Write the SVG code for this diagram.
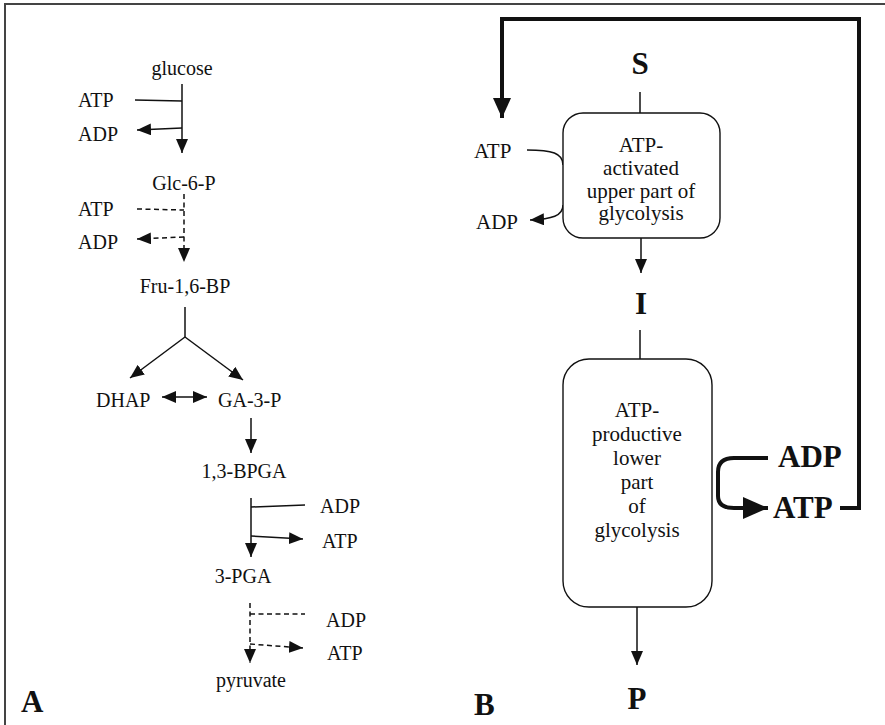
<svg xmlns="http://www.w3.org/2000/svg" width="885" height="725" viewBox="0 0 885 725">
<style>
text{font-family:"Liberation Serif","Times New Roman",serif;fill:#111}
.t{font-size:20px}
.t2{font-size:21px}
.c{text-anchor:middle}
.b{font-weight:bold;font-size:31px}
.ln{fill:none;stroke:#111;stroke-width:1.5}
.d{stroke-dasharray:5,3.5}
.thick{fill:none;stroke:#111;stroke-width:4}
.box{fill:#fff;stroke:#111;stroke-width:1.4}
</style>
<defs>
<marker id="ah" viewBox="0 0 14 12" refX="14" refY="6" markerWidth="14" markerHeight="12" markerUnits="userSpaceOnUse" orient="auto-start-reverse"><path d="M0,0 L14,6 L0,12z" fill="#111" stroke="none"/></marker>
<marker id="ahb" viewBox="0 0 20 18" refX="20" refY="9" markerWidth="20" markerHeight="18" markerUnits="userSpaceOnUse" orient="auto"><path d="M0,0 L20,9 L0,18z" fill="#111" stroke="none"/></marker>
<marker id="ahb2" viewBox="0 0 25 22" refX="25" refY="11" markerWidth="25" markerHeight="22" markerUnits="userSpaceOnUse" orient="auto"><path d="M0,0 L25,11 L0,22z" fill="#111" stroke="none"/></marker>
</defs>
<g id="frame"><path d="M5,725 V4 H885" fill="none" stroke="#444" stroke-width="2"/></g>

<g id="connectors">
<!-- panel A -->
<path class="ln" d="M182,84 V153" marker-end="url(#ah)"/>
<path class="ln" d="M135,100 L182,101"/>
<path class="ln" d="M182,128 L137,130" marker-end="url(#ah)"/>
<path class="ln d" d="M184,194 V262" marker-end="url(#ah)"/>
<path class="ln d" d="M137,209 L184,210"/>
<path class="ln d" d="M184,237 L137,239" marker-end="url(#ah)"/>
<path class="ln" d="M185,307 V337"/>
<path class="ln" d="M185,337 L130,378" marker-end="url(#ah)"/>
<path class="ln" d="M185,337 L243,380" marker-end="url(#ah)"/>
<path class="ln" d="M162,397 L207,397" marker-start="url(#ah)" marker-end="url(#ah)"/>
<path class="ln" d="M251,418 V453" marker-end="url(#ah)"/>
<path class="ln" d="M251,498 V557" marker-end="url(#ah)"/>
<path class="ln" d="M251,507 L305,505"/>
<path class="ln" d="M251,536 L303,539" marker-end="url(#ah)"/>
<path class="ln d" d="M250,603 V663" marker-end="url(#ah)"/>
<path class="ln d" d="M250,614 L305,614"/>
<path class="ln d" d="M250,644 L303,648" marker-end="url(#ah)"/>
<!-- panel B -->
<path class="ln" d="M640,92 V113"/>
<path class="ln" d="M527,150 C552,150 563,153 563,165"/>
<path class="ln" d="M563,205 C563,216 552,219 530,220" marker-end="url(#ah)"/>
<path class="ln" d="M641,238 V273" marker-end="url(#ah)"/>
<path class="ln" d="M640,330 V359"/>
<path class="ln" d="M637,607 V665" marker-end="url(#ah)"/>
<path class="thick" d="M768,458 L734,458 Q718,458 718,472 L718,496 Q718,508 734,508 L768,508" marker-end="url(#ahb2)"/>
<path class="thick" d="M840,508 H859 V19 H502 V118" marker-end="url(#ahb)"/>
</g>

<g id="glucose"><text class="t c" x="182" y="75">glucose</text></g>
<g id="atp1"><text class="t" x="78" y="107">ATP</text></g>
<g id="adp1"><text class="t" x="78" y="141">ADP</text></g>
<g id="glc6p"><text class="t c" x="184" y="190">Glc-6-P</text></g>
<g id="atp2"><text class="t" x="78" y="216">ATP</text></g>
<g id="adp2"><text class="t" x="78" y="249">ADP</text></g>
<g id="fru16bp"><text class="t c" x="185" y="293">Fru-1,6-BP</text></g>
<g id="dhap"><text class="t" x="96" y="407">DHAP</text></g>
<g id="ga3p"><text class="t" x="218" y="407">GA-3-P</text></g>
<g id="bpga"><text class="t c" x="244" y="478">1,3-BPGA</text></g>
<g id="adp3"><text class="t" x="320" y="513">ADP</text></g>
<g id="atp3"><text class="t" x="322" y="548">ATP</text></g>
<g id="pga"><text class="t c" x="243" y="583">3-PGA</text></g>
<g id="adp4"><text class="t" x="326" y="627">ADP</text></g>
<g id="atp4"><text class="t" x="327" y="660">ATP</text></g>
<g id="pyruvate"><text class="t c" x="251" y="687">pyruvate</text></g>
<g id="labelA"><text class="b" x="21" y="712">A</text></g>

<g id="S"><text class="b c" x="640" y="74">S</text></g>
<g id="upper">
<rect class="box" x="563" y="113" width="157" height="125" rx="20"/>
<text class="t2 c" x="641" y="152">ATP-</text>
<text class="t2 c" x="641" y="175">activated</text>
<text class="t2 c" x="641" y="198">upper part of</text>
<text class="t2 c" x="641" y="220">glycolysis</text>
</g>
<g id="atpB1"><text class="t2" x="474" y="158">ATP</text></g>
<g id="adpB1"><text class="t2" x="476" y="229">ADP</text></g>
<g id="I"><text class="b c" x="641" y="314">I</text></g>
<g id="lower">
<rect class="box" x="563" y="359" width="149" height="248" rx="26"/>
<text class="t2 c" x="637" y="417">ATP-</text>
<text class="t2 c" x="637" y="441">productive</text>
<text class="t2 c" x="637" y="465">lower</text>
<text class="t2 c" x="637" y="489">part</text>
<text class="t2 c" x="637" y="513">of</text>
<text class="t2 c" x="637" y="537">glycolysis</text>
</g>
<g id="adpB2"><text class="b" x="778" y="467">ADP</text></g>
<g id="atpB2"><text class="b" x="773" y="518">ATP</text></g>
<g id="P"><text class="b c" x="637" y="709">P</text></g>
<g id="labelB"><text class="b" x="474" y="715">B</text></g>
</svg>
